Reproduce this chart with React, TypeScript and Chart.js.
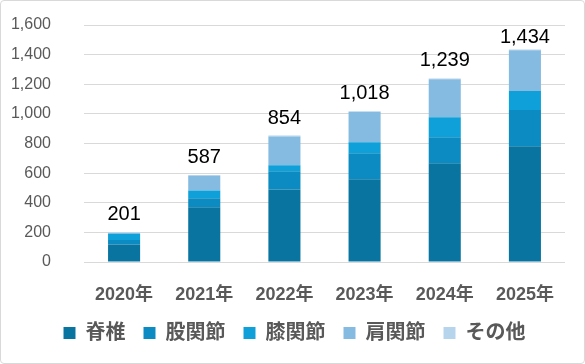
import React, { useEffect, useRef } from "react";
import { Chart, registerables } from "chart.js";

Chart.register(...registerables);

const categories = ["2020年", "2021年", "2022年", "2023年", "2024年", "2025年"];
const spine = [118, 370, 490, 558, 666, 782];
const hip = [30, 61, 122, 176, 177, 244];
const knee = [43, 52, 41, 75, 135, 129];
const shoulder = [5, 97, 195, 203, 255, 275];
const other = [5, 7, 6, 6, 6, 4];
const seriesNames = ["脊椎", "股関節", "膝関節", "肩関節", "その他"];
const yTicks = [0, 200, 400, 600, 800, 1000, 1200, 1400, 1600];

const colors = ["#0A74A1", "#0B8BC1", "#0FA0D9", "#86BBE1", "#B6D4EC"];
const FONT = "'Liberation Sans', 'Noto Sans CJK JP', sans-serif";

const totalLabels = {
  id: "totalLabels",
  afterDatasetsDraw(chart: any) {
    const ctx = chart.ctx;
    const n = chart.data.labels.length;
    const lastMeta = chart.getDatasetMeta(chart.data.datasets.length - 1);
    ctx.save();
    ctx.font = `20px ${FONT}`;
    ctx.fillStyle = "#000000";
    ctx.textAlign = "center";
    ctx.textBaseline = "alphabetic";
    for (let i = 0; i < n; i++) {
      let sum = 0;
      chart.data.datasets.forEach((d: any) => (sum += d.data[i]));
      const el = lastMeta.data[i];
      const y = Math.max(el.y - 12, chart.chartArea.top + 18);
      ctx.fillText(sum.toLocaleString("en-US"), el.x, y);
    }
    ctx.restore();
  },
};

const shiftLegend = {
  id: "shiftLegend",
  afterLayout(chart: any) {
    const lg = chart.legend;
    if (lg) {
      lg.left += 12;
      lg.right += 12;
    }
  },
};

export default function App() {
  const ref = useRef<HTMLCanvasElement | null>(null);
  useEffect(() => {
    document.body.style.margin = "0";
    const data = [spine, hip, knee, shoulder, other];
    const chart = new Chart(ref.current as HTMLCanvasElement, {
      type: "bar",
      data: {
        labels: categories,
        datasets: data.map((d, i) => ({
          label: seriesNames[i],
          data: d,
          backgroundColor: colors[i],
          borderWidth: 0,
          barPercentage: 0.4,
          categoryPercentage: 1,
        })),
      },
      options: {
        animation: false,
        responsive: false,
        maintainAspectRatio: false,
        layout: { padding: { top: 25, left: 0, right: 20, bottom: 11 } },
        plugins: {
          tooltip: { enabled: false },
          legend: {
            position: "bottom",
            labels: {
              boxWidth: 12,
              boxHeight: 12,
              padding: 18,
              color: "#595959",
              font: { family: FONT, size: 20, weight: "bold" },
            },
          },
        },
        scales: {
          x: {
            stacked: true,
            grid: { display: false, drawTicks: false },
            border: { display: false },
            afterFit: (scale: any) => {
              scale.height = 43;
            },
            ticks: {
              color: "#595959",
              padding: 22,
              maxRotation: 0,
              font: { family: FONT, size: 18, weight: "bold" },
            },
          },
          y: {
            stacked: true,
            min: 0,
            max: 1600,
            afterBuildTicks: (scale: any) => {
              scale.ticks = yTicks.map((v) => ({ value: v }));
            },
            afterFit: (scale: any) => {
              scale.width = 84;
              scale.paddingTop = 9;
              scale.paddingBottom = 9;
            },
            grid: { color: "#D9D9D9", lineWidth: 1, drawTicks: false },
            border: { display: false },
            ticks: {
              color: "#595959",
              padding: 33,
              font: { family: FONT, size: 16 },
              callback: (v: any) => Number(v).toLocaleString("en-US"),
            },
          },
        },
      },
      plugins: [totalLabels, shiftLegend],
    });
    return () => chart.destroy();
  }, []);
  return (
    <div style={{ position: "relative", width: 585, height: 364 }}>
      <canvas ref={ref} width={585} height={364} style={{ display: "block" }} />
      <div
        style={{
          position: "absolute",
          left: 0,
          top: 0,
          width: 585,
          height: 364,
          boxSizing: "border-box",
          border: "1px solid #D9D9D9",
          borderRadius: 4,
          pointerEvents: "none",
        }}
      />
    </div>
  );
}
